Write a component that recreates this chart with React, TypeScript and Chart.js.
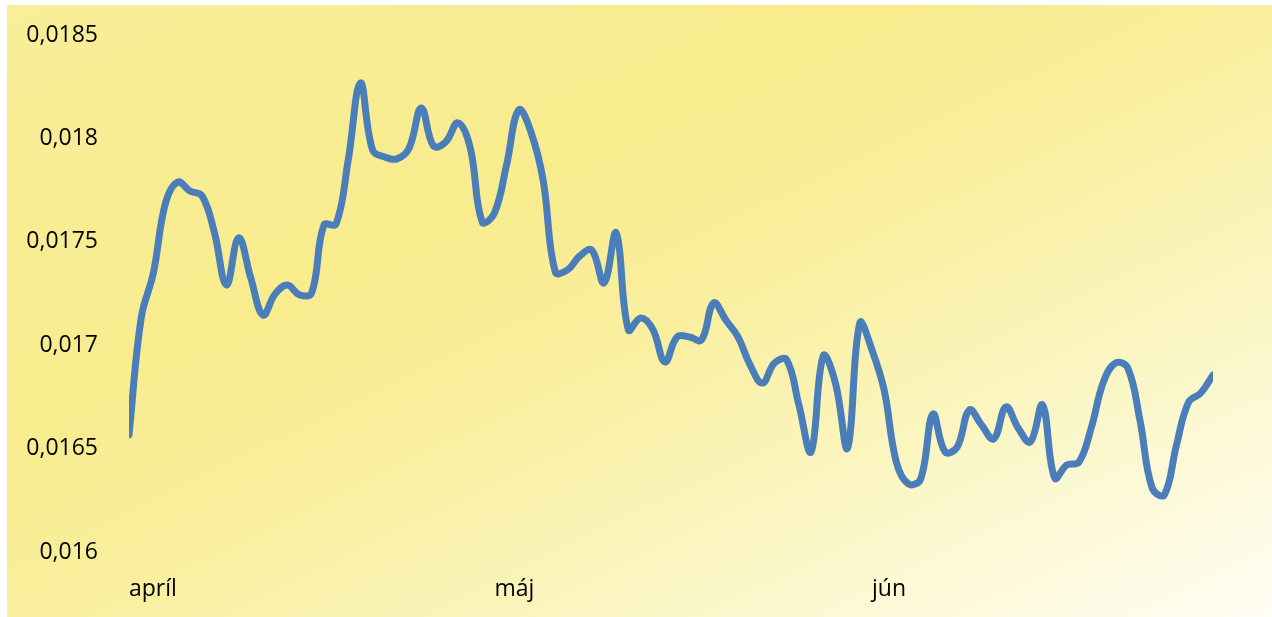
import React, { useEffect, useRef } from "react";
import { Chart, registerables } from "chart.js";

Chart.register(...registerables);

// Daily values, 1 April .. 29 June
const rateValues: number[] = [
  0.016566, 0.017132, 0.017349, 0.017688, 0.017789, 0.017746, 0.017722, 0.017548, 0.017291, 0.017519,
  0.017325, 0.017146, 0.017248, 0.017291, 0.017243, 0.017253, 0.017581, 0.017586, 0.017896, 0.018268,
  0.017944, 0.017910, 0.017901, 0.017954, 0.018147, 0.017963, 0.017983, 0.018075, 0.017959, 0.017596,
  0.017639, 0.017872, 0.018138, 0.018031, 0.017799, 0.017354, 0.017364, 0.017431, 0.017460, 0.017301,
  0.017543, 0.017074, 0.017132, 0.017078, 0.016919, 0.017040, 0.017040, 0.017025, 0.017204, 0.017122,
  0.017040, 0.016904, 0.016817, 0.016914, 0.016929, 0.016711, 0.016484, 0.016948, 0.016817, 0.016503,
  0.017107, 0.016977, 0.016783, 0.016435, 0.016329, 0.016353, 0.016667, 0.016484, 0.016508, 0.016687,
  0.016614, 0.016547, 0.016701, 0.016600, 0.016532, 0.016711, 0.016358, 0.016421, 0.016435, 0.016600,
  0.016822, 0.016914, 0.016890, 0.016638, 0.016310, 0.016276, 0.016517, 0.016725, 0.016769, 0.016856,
];

// Month starts (day index) and their labels
const monthStartIndex: number[] = [0, 30, 61];
const monthLabels: string[] = ["apríl", "máj", "jún"];

// Y axis ticks
const yTickValues: number[] = [0.016, 0.0165, 0.017, 0.0175, 0.018, 0.0185];
const yTickLabels: string[] = ["0,016", "0,0165", "0,017", "0,0175", "0,018", "0,0185"];

const bgPlugin = {
  id: "bgGradient",
  beforeDraw(chart: any) {
    const { ctx, width, height } = chart;
    ctx.save();
    ctx.scale(width, height);
    const g = ctx.createLinearGradient(0, 0, 1, 1);
    g.addColorStop(0, "#F9EE99");
    g.addColorStop(0.35, "#F8EC8E");
    g.addColorStop(0.52, "#F9EF9E");
    g.addColorStop(0.75, "#FBF6C6");
    g.addColorStop(1, "#FFFEF4");
    ctx.fillStyle = g;
    ctx.fillRect(0, 0, 1, 1);
    ctx.restore();
  },
};

export default function App() {
  const canvasRef = useRef<HTMLCanvasElement | null>(null);

  useEffect(() => {
    if (!canvasRef.current) return;
    const font = { family: "'Open Sans', sans-serif", size: 23 };
    const chart = new Chart(canvasRef.current, {
      type: "line",
      data: {
        datasets: [
          {
            data: rateValues.map((v, i) => ({ x: i, y: v })),
            borderColor: "#4A7EBB",
            borderWidth: 7,
            pointRadius: 0,
            tension: 0.4,
            borderCapStyle: "round",
            borderJoinStyle: "round",
            fill: false,
          },
        ],
      },
      options: {
        animation: false,
        responsive: true,
        maintainAspectRatio: false,
        layout: { padding: { top: 30, right: 59, bottom: 0, left: 0 } },
        plugins: { legend: { display: false }, tooltip: { enabled: false } },
        scales: {
          x: {
            type: "linear",
            min: 0,
            max: rateValues.length - 1,
            grid: { display: false, drawTicks: false },
            border: { display: false },
            afterBuildTicks: (scale: any) => {
              scale.ticks = monthStartIndex.map((v) => ({ value: v }));
            },
            afterFit: (scale: any) => {
              scale.height = 65;
            },
            ticks: {
              autoSkip: false,
              maxRotation: 0,
              align: "start",
              padding: 24,
              color: "#000",
              font,
              callback: (value: any) => {
                const idx = monthStartIndex.indexOf(Number(value));
                return idx >= 0 ? monthLabels[idx] : "";
              },
            },
          },
          y: {
            min: 0.016,
            max: 0.0185,
            grid: { display: false, drawTicks: true, tickLength: 31 },
            border: { display: false },
            afterBuildTicks: (scale: any) => {
              scale.ticks = yTickValues.map((v) => ({ value: v }));
            },
            afterFit: (scale: any) => {
              scale.width = 122;
            },
            ticks: {
              padding: 0,
              color: "#000",
              font,
              callback: (value: any) => {
                const idx = yTickValues.findIndex((t) => Math.abs(t - Number(value)) < 1e-9);
                return idx >= 0 ? yTickLabels[idx] : "";
              },
            },
          },
        },
      },
      plugins: [bgPlugin],
    } as any);
    return () => chart.destroy();
  }, []);

  return (
    <div style={{ position: "absolute", left: 7, top: 5, width: 1265, height: 612 }}>
      <canvas ref={canvasRef} />
    </div>
  );
}
